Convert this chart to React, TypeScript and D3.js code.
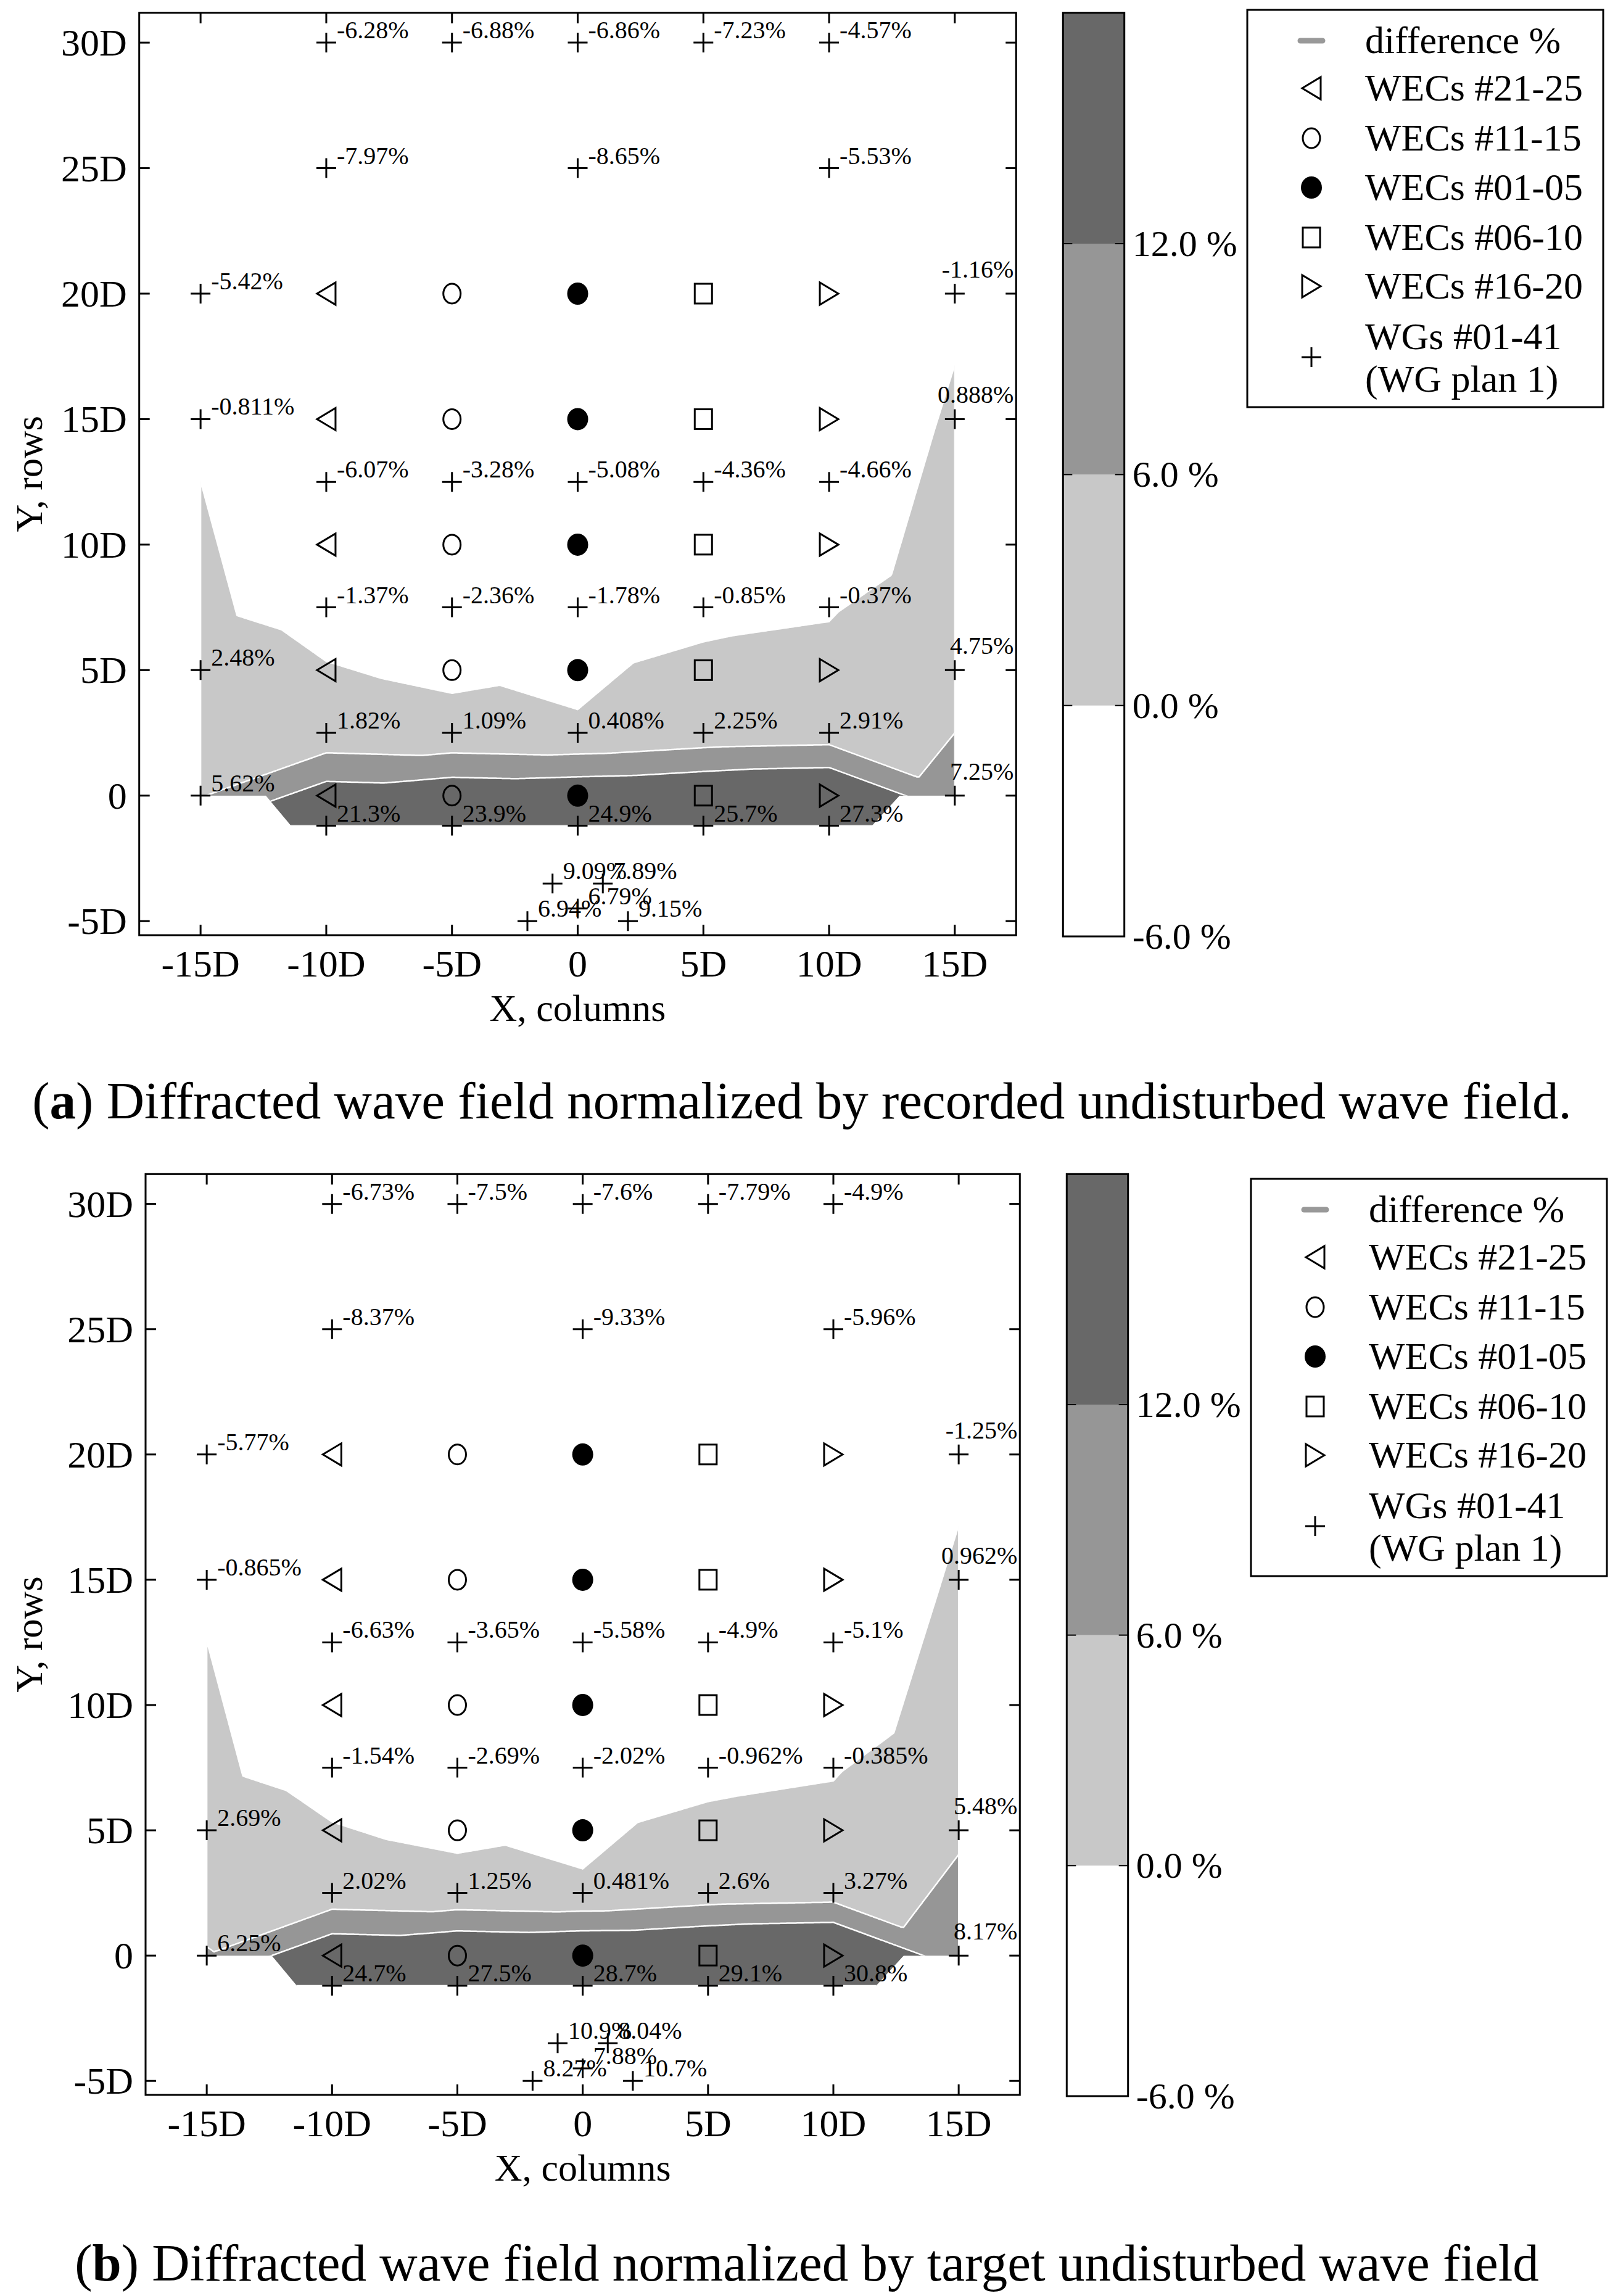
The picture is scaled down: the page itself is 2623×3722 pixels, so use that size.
import React, { useMemo } from 'react';
import * as d3 from 'd3';

// wave gauge positions, in diameters D
const wgX = [-10, -5, 0, 5, 10, -10, 0, 10, -15, 15, -15, 15, -10, -5, 0, 5, 10, -10, -5, 0, 5, 10, -15, 15, -10, -5, 0, 5, 10, -15, 15, -10, -5, 0, 5, 10, -1, 1, 0, -2, 2];
const wgY = [30, 30, 30, 30, 30, 25, 25, 25, 20, 20, 15, 15, 12.5, 12.5, 12.5, 12.5, 12.5, 7.5, 7.5, 7.5, 7.5, 7.5, 5, 5, 2.5, 2.5, 2.5, 2.5, 2.5, 0, 0, -1.2, -1.2, -1.2, -1.2, -1.2, -3.5, -3.5, -4.5, -5, -5];

// difference % at each gauge
const diffRecorded = [-6.28, -6.88, -6.86, -7.23, -4.57, -7.97, -8.65, -5.53, -5.42, -1.16, -0.811, 0.888, -6.07, -3.28, -5.08, -4.36, -4.66, -1.37, -2.36, -1.78, -0.85, -0.37, 2.48, 4.75, 1.82, 1.09, 0.408, 2.25, 2.91, 5.62, 7.25, 21.3, 23.9, 24.9, 25.7, 27.3, 9.09, 7.89, 6.79, 6.94, 9.15];
const diffTarget = [-6.73, -7.5, -7.6, -7.79, -4.9, -8.37, -9.33, -5.96, -5.77, -1.25, -0.865, 0.962, -6.63, -3.65, -5.58, -4.9, -5.1, -1.54, -2.69, -2.02, -0.962, -0.385, 2.69, 5.48, 2.02, 1.25, 0.481, 2.6, 3.27, 6.25, 8.17, 24.7, 27.5, 28.7, 29.1, 30.8, 10.9, 8.04, 7.88, 8.27, 10.7];

// outline of the gridded field that gets contoured
const fieldOutline: [number, number][] = [[-15, 0], [-12.4, 0], [-11.4, -1.2], [11.7, -1.2], [12.8, 0], [15, 0], [15, 20], [10, 30], [-10, 30], [-15, 20]];

// WEC array
const wecCols = [-10, -5, 0, 5, 10];
const wecRows = [0, 5, 10, 15, 20];
const wecShapes = ['triLeft', 'circle', 'dot', 'square', 'triRight'];
const legendShapes = ['triLeft', 'circle', 'dot', 'square', 'triRight'];
const legendNames = ['WECs #21-25', 'WECs #11-15', 'WECs #01-05', 'WECs #06-10', 'WECs #16-20'];

const xTicks = [-15, -10, -5, 0, 5, 10, 15];
const yTicks = [-5, 0, 5, 10, 15, 20, 25, 30];
const levels = [-6, 0, 6, 12, 18];
const levelColors = ['#ffffff', '#c8c8c8', '#969696', '#686868'];
const levelLabels = ['-6.0 %', '0.0 %', '6.0 %', '12.0 %'];

const xDomain = [-17.44, 17.44];
const yDomain = [-5.56, 31.19];
const FONT = "'Liberation Serif', 'Times New Roman', serif";

const panels = [
  { letter: 'a', caption: ' Diffracted wave field normalized by recorded undisturbed wave field.', values: diffRecorded,
    left: 225.7, right: 1647.3, top: 20.7, bottom: 1516, cbLeft: 1723.3, cbRight: 1822.7, legLeft: 2022, legTop: 16, capX: 1300, capY: 1813 },
  { letter: 'b', caption: ' Diffracted wave field normalized by target undisturbed wave field', values: diffTarget,
    left: 236, right: 1653.3, top: 1903.3, bottom: 3396, cbLeft: 1729.3, cbRight: 1828.7, legLeft: 2028, legTop: 1911, capX: 1308, capY: 3697 },
];

const fmt = (v: number) => (v === 0 ? '0' : `${v}D`);

// linear interpolation on a triangulation of the gauges (extrapolated to the outline), then filled contours
function contourPaths(values: number[], xs: any, ys: any) {
  const idx = wgY.map((_, i) => i).filter((i) => wgY[i] > -2);
  const pts = idx.map((i) => [wgX[i], wgY[i]] as [number, number]);
  const vals = idx.map((i) => values[i]);
  // tiny skew only to break ties between equally valid diagonals (mirror-symmetric mesh)
  const t = d3.Delaunay.from(pts.map(([x, y]) => [x * (1 + 1e-4 * y), y])).triangles;
  const tris: any[] = [];
  for (let k = 0; k < t.length; k += 3) {
    const [ax, ay] = pts[t[k]], [bx, by] = pts[t[k + 1]], [cx, cy] = pts[t[k + 2]];
    const det = (by - cy) * (ax - cx) + (cx - bx) * (ay - cy);
    if (Math.abs(det) < 1e-9) continue;
    tris.push({ ax, ay, bx, by, cx, cy, det, va: vals[t[k]], vb: vals[t[k + 1]], vc: vals[t[k + 2]] });
  }
  const bary = (tr: any, x: number, y: number) => {
    const l1 = ((tr.by - tr.cy) * (x - tr.cx) + (tr.cx - tr.bx) * (y - tr.cy)) / tr.det;
    const l2 = ((tr.cy - tr.ay) * (x - tr.cx) + (tr.ax - tr.cx) * (y - tr.cy)) / tr.det;
    return [l1, l2, 1 - l1 - l2];
  };
  const x0 = -15, x1 = 15, y0 = -1.2, y1 = 30, step = 0.05;
  const nx = Math.round((x1 - x0) / step) + 1;
  const ny = Math.round((y1 - y0) / step) + 1;
  const grid = new Array(nx * ny).fill(NaN);
  tris.forEach((tr) => {
    const i0 = Math.max(0, Math.floor((Math.min(tr.ax, tr.bx, tr.cx) - x0) / step) - 1);
    const i1 = Math.min(nx - 1, Math.ceil((Math.max(tr.ax, tr.bx, tr.cx) - x0) / step) + 1);
    const j0 = Math.max(0, Math.floor((Math.min(tr.ay, tr.by, tr.cy) - y0) / step) - 1);
    const j1 = Math.min(ny - 1, Math.ceil((Math.max(tr.ay, tr.by, tr.cy) - y0) / step) + 1);
    for (let j = j0; j <= j1; j++) {
      for (let i = i0; i <= i1; i++) {
        const [l1, l2, l3] = bary(tr, x0 + i * step, y0 + j * step);
        if (l1 >= -1e-7 && l2 >= -1e-7 && l3 >= -1e-7) grid[j * nx + i] = l1 * tr.va + l2 * tr.vb + l3 * tr.vc;
      }
    }
  });
  // outside the hull: extend the plane of the closest triangle
  for (let j = 0; j < ny; j++) {
    for (let i = 0; i < nx; i++) {
      if (!isNaN(grid[j * nx + i])) continue;
      const x = x0 + i * step, y = y0 + j * step;
      let best = -Infinity, v = -1000;
      for (const tr of tris) {
        const [l1, l2, l3] = bary(tr, x, y);
        const m = Math.min(l1, l2, l3);
        if (m > best) { best = m; v = l1 * tr.va + l2 * tr.vb + l3 * tr.vc; }
      }
      grid[j * nx + i] = v;
    }
  }
  const cs = d3.contours().size([nx, ny]).thresholds(levels.slice(1, 4))(grid);
  const outline = 'M' + fieldOutline.map(([x, y]) => `${xs(x).toFixed(1)},${ys(y).toFixed(1)}`).join('L') + 'Z';
  const fills = cs.map((c: any) => {
    const d = c.coordinates
      .map((poly: any) => poly.map((ring: any) => 'M' + ring.map(([gx, gy]: number[]) => {
        const cx = Math.min(Math.max(gx, 0.5), nx - 0.5);
        const cy = Math.min(Math.max(gy, 0.5), ny - 0.5);
        return `${xs(x0 + (cx - 0.5) * step).toFixed(1)},${ys(y0 + (cy - 0.5) * step).toFixed(1)}`;
      }).join('L') + 'Z').join(''))
      .join('');
    return { value: c.value, d };
  });
  return { fills, outline };
}

function Marker({ shape, x, y }: { shape: string; x: number; y: number }) {
  const sw = 3;
  if (shape === 'circle') return <ellipse cx={x} cy={y} rx={14} ry={16} fill="none" stroke="#000" strokeWidth={sw} />;
  if (shape === 'dot') return <ellipse cx={x} cy={y} rx={17} ry={18} fill="#000" />;
  if (shape === 'square') return <rect x={x - 14} y={y - 16} width={28} height={32} fill="none" stroke="#000" strokeWidth={sw} />;
  if (shape === 'triLeft') return <path d={`M${x - 15},${y}L${x + 15},${y - 18}L${x + 15},${y + 18}Z`} fill="none" stroke="#000" strokeWidth={sw} />;
  if (shape === 'triRight') return <path d={`M${x + 15},${y}L${x - 15},${y - 18}L${x - 15},${y + 18}Z`} fill="none" stroke="#000" strokeWidth={sw} />;
  return <path d={`M${x - 16},${y}H${x + 16}M${x},${y - 16}V${y + 16}`} stroke="#000" strokeWidth={sw} fill="none" />;
}

function Panel({ p }: { p: any }) {
  const xs = d3.scaleLinear().domain(xDomain).range([p.left, p.right]);
  const ys = d3.scaleLinear().domain(yDomain).range([p.bottom, p.top]);
  const cb = d3.scaleLinear().domain([levels[0], levels[4]]).range([p.bottom + 2, p.top]);
  const field = useMemo(() => contourPaths(p.values, xs, ys), [p]);
  const tick = 17;
  const legW = 577, legH = 644;
  const symX = p.legLeft + 104, txtX = p.legLeft + 191;
  const rowY = [127, 208, 288, 369, 448].map((d) => p.legTop + d);
  const clipId = `field-${p.letter}`;

  return (
    <g>
      <clipPath id={clipId}><path d={field.outline} /></clipPath>
      <g clipPath={`url(#${clipId})`}>
        {field.fills.map((f, i) => (
          <path key={i} d={f.d} fill={levelColors[i + 1]} stroke="#fff" strokeWidth={2.5} fillRule="evenodd" />
        ))}
      </g>

      {/* frame + inward ticks */}
      <rect x={p.left} y={p.top} width={p.right - p.left} height={p.bottom - p.top} fill="none" stroke="#000" strokeWidth={3} />
      {xTicks.map((v) => (
        <g key={'x' + v}>
          <line x1={xs(v)} x2={xs(v)} y1={p.bottom} y2={p.bottom - tick} stroke="#000" strokeWidth={3} />
          <line x1={xs(v)} x2={xs(v)} y1={p.top} y2={p.top + tick} stroke="#000" strokeWidth={3} />
          <text x={xs(v)} y={p.bottom + 67} textAnchor="middle" fontSize={62}>{fmt(v)}</text>
        </g>
      ))}
      {yTicks.map((v) => (
        <g key={'y' + v}>
          <line x1={p.left} x2={p.left + tick} y1={ys(v)} y2={ys(v)} stroke="#000" strokeWidth={3} />
          <line x1={p.right} x2={p.right - tick} y1={ys(v)} y2={ys(v)} stroke="#000" strokeWidth={3} />
          <text x={p.left - 20} y={ys(v) + 21} textAnchor="end" fontSize={62}>{fmt(v)}</text>
        </g>
      ))}
      <text x={(p.left + p.right) / 2} y={p.bottom + 139} textAnchor="middle" fontSize={62}>X, columns</text>
      <text transform={`translate(${68},${(p.top + p.bottom) / 2}) rotate(-90)`} textAnchor="middle" fontSize={62}>Y, rows</text>

      {/* WECs */}
      {wecCols.map((cx, ci) => wecRows.map((ry) => (
        <Marker key={`w${cx}_${ry}`} shape={wecShapes[ci]} x={xs(cx)} y={ys(ry)} />
      )))}

      {/* wave gauges with their difference labels */}
      {wgX.map((x, i) => {
        const px = xs(x), py = ys(wgY[i]);
        const edge = x >= 15;
        return (
          <g key={'g' + i}>
            <Marker shape="plus" x={px} y={py} />
            <text x={edge ? p.right - 4 : px + 17} y={edge ? py - 26 : py - 7} textAnchor={edge ? 'end' : 'start'} fontSize={40}>
              {`${p.values[i]}%`}
            </text>
          </g>
        );
      })}

      {/* colour bar */}
      {levelColors.map((c, i) => (
        <rect key={'c' + i} x={p.cbLeft} y={cb(levels[i + 1])} width={p.cbRight - p.cbLeft} height={cb(levels[i]) - cb(levels[i + 1])} fill={c} />
      ))}
      <rect x={p.cbLeft} y={cb(levels[4])} width={p.cbRight - p.cbLeft} height={cb(levels[0]) - cb(levels[4])} fill="none" stroke="#000" strokeWidth={3} />
      {levels.slice(0, 4).map((v, i) => (
        <g key={'l' + v}>
          {i > 0 && <line x1={p.cbLeft} x2={p.cbLeft + 15} y1={cb(v)} y2={cb(v)} stroke="#000" strokeWidth={2} />}
          {i > 0 && <line x1={p.cbRight - 15} x2={p.cbRight} y1={cb(v)} y2={cb(v)} stroke="#000" strokeWidth={2} />}
          <text x={p.cbRight + 13} y={cb(v) + 20} fontSize={60}>{levelLabels[i]}</text>
        </g>
      ))}

      {/* legend */}
      <rect x={p.legLeft} y={p.legTop} width={legW} height={legH} fill="#fff" stroke="#000" strokeWidth={3} />
      <line x1={symX - 18} x2={symX + 18} y1={p.legTop + 50} y2={p.legTop + 50} stroke="#999" strokeWidth={9} strokeLinecap="round" />
      <text x={txtX} y={p.legTop + 70} fontSize={62}>difference %</text>
      {legendNames.map((n, i) => (
        <g key={n}>
          <Marker shape={legendShapes[i]} x={symX} y={rowY[i]} />
          <text x={txtX} y={rowY[i] + 20} fontSize={62}>{n}</text>
        </g>
      ))}
      <Marker shape="plus" x={symX} y={p.legTop + 563} />
      <text x={txtX} y={p.legTop + 550} fontSize={62}>WGs #01-41</text>
      <text x={txtX} y={p.legTop + 619} fontSize={62}>(WG plan 1)</text>

      <text x={p.capX} y={p.capY} textAnchor="middle" fontSize={85}>
        (<tspan fontWeight="bold">{p.letter}</tspan>){p.caption}
      </text>
    </g>
  );
}

const App = () => (
  <svg width={2623} height={3722} style={{ position: 'absolute', left: 0, top: 0, background: '#fff' }} fontFamily={FONT}>
    <rect width={2623} height={3722} fill="#fff" />
    {panels.map((p) => <Panel key={p.letter} p={p} />)}
  </svg>
);

export default App;
